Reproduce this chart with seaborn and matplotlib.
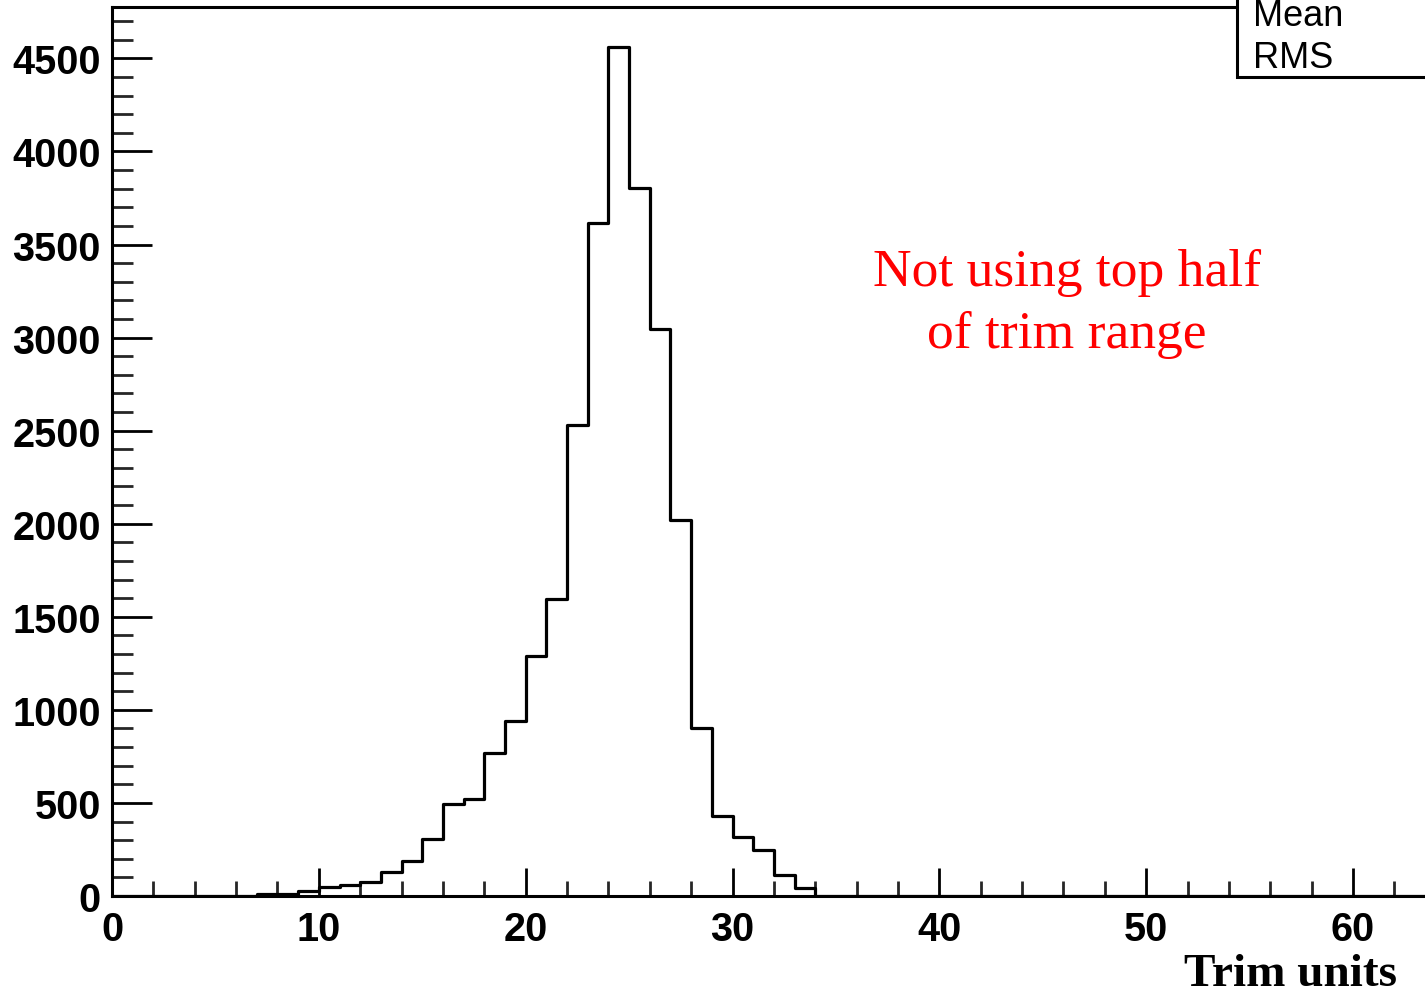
import numpy as np
import pandas as pd
import matplotlib
matplotlib.use("Agg")
import matplotlib.pyplot as plt
import seaborn as sns
from matplotlib.ticker import MultipleLocator
from matplotlib.patches import Rectangle

# Histogram data (bin edges 0..64, width 1)
bin_lefts = list(range(7, 34))
counts = [10, 12, 25, 47, 59, 73, 127, 186, 306, 495, 521, 767, 939, 1292, 1597,
          2528, 3618, 4560, 3804, 3048, 2018, 901, 432, 316, 249, 113, 41]
x_range = [0, 64]
y_ticks = [0, 500, 1000, 1500, 2000, 2500, 3000, 3500, 4000, 4500]
x_ticks = [0, 10, 20, 30, 40, 50, 60]
x_label = "Trim units"
note_text = "Not using top half\nof trim range"
stat_labels = ["Mean", "RMS"]

sns.set_theme(style="white")
plt.rcParams['font.family'] = ['Liberation Sans', 'DejaVu Sans']
plt.rcParams['text.color'] = 'black'

W, H = 1425, 995
fig = plt.figure(figsize=(W / 100, H / 100), dpi=100)
px_per_unit = 1241 / 60.0
ax_left, ax_bottom_px, ax_top_px = 112, 897, 8
ax = fig.add_axes([ax_left / W, (H - ax_bottom_px) / H,
                   (x_range[1] - x_range[0]) * px_per_unit / W,
                   (ax_bottom_px - ax_top_px) / H])

# one entry per counted value, placed at its bin centre
samples = np.repeat(np.array(bin_lefts, dtype=float) + 0.5, counts)
df = pd.DataFrame({"trim": samples})
sns.histplot(data=df, x="trim", binwidth=1, binrange=(x_range[0], x_range[1]),
             element="step", fill=False, color="black", linewidth=2.3, ax=ax)

ax.set_xlim(*x_range)
ax.set_ylim(0, 4776)
ax.set_ylabel("")
ax.set_xlabel("")
ax.set_xticks(x_ticks)
ax.set_yticks(y_ticks)
ax.xaxis.set_minor_locator(MultipleLocator(2))
ax.yaxis.set_minor_locator(MultipleLocator(100))

for s in ["left", "bottom", "top"]:
    ax.spines[s].set_visible(True)
    ax.spines[s].set_color("black")
    ax.spines[s].set_linewidth(2.2)
ax.spines["right"].set_visible(False)

ax.tick_params(axis="x", which="major", direction="in", length=20, width=2,
               bottom=True, top=False, pad=10, labelsize=28.5, colors="black")
ax.tick_params(axis="x", which="minor", direction="in", length=10.5, width=2,
               bottom=True, top=False)
ax.tick_params(axis="y", which="major", direction="in", length=29, width=2,
               left=True, right=False, pad=8, labelsize=28.5, colors="black")
ax.tick_params(axis="y", which="minor", direction="in", length=15, width=2,
               left=True, right=False)
for lab in ax.get_xticklabels() + ax.get_yticklabels():
    lab.set_fontweight("bold")

# x-axis title
fig.text(1397 / W, 1 - 975 / H, x_label, ha="right", va="center", color="black",
         fontsize=34, fontweight="bold", family=["Liberation Serif", "DejaVu Serif"])

# red annotation
fig.text(1067 / W, 1 - 304 / H, note_text, ha="center", va="center",
         fontsize=38.5, color="red", linespacing=1.38,
         family=["Liberation Serif", "DejaVu Serif"])

# stat box (cut off at the top/right)
box = Rectangle((1237 / W, 1 - 78 / H), (W - 1237 + 20) / W, 100 / H,
                transform=fig.transFigure, facecolor="white",
                edgecolor="black", linewidth=2.2, zorder=10)
fig.patches.append(box)
fig.text(1253 / W, 1 - 17 / H, stat_labels[0], ha="left", va="center",
         fontsize=26, color="black", zorder=11)
fig.text(1253 / W, 1 - 59 / H, stat_labels[1], ha="left", va="center",
         fontsize=26, color="black", zorder=11)

fig.savefig("out.png", dpi=100)
